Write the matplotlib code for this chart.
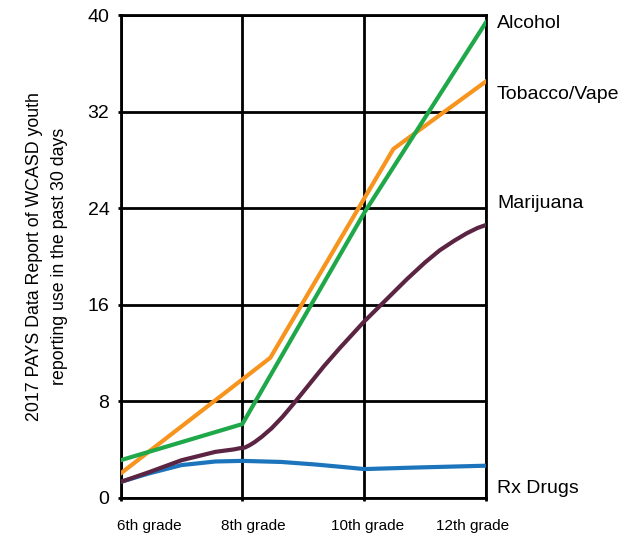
import matplotlib.pyplot as plt

plt.rcParams['font.family'] = ['Liberation Sans', 'DejaVu Sans']

# grade positions: 0 = 6th, 1 = 8th, 2 = 10th, 3 = 12th
grades = ["6th grade", "8th grade", "10th grade", "12th grade"]
grade_label_pos = [0.24, 1.09, 2.03, 2.89]

alcohol_x = [0, 1, 2, 3]
alcohol_y = [3.1, 6.1, 23.6, 39.4]

tobacco_x = [0, 1, 1.23, 2.24, 3]
tobacco_y = [2.0, 9.8, 11.6, 28.9, 34.5]

marijuana_x = [0, 0.23, 0.5, 0.78, 0.93, 0.98, 1.02, 1.06, 1.1, 1.16, 1.24, 1.33,
               1.43, 1.55, 1.67, 1.8, 2.0, 2.13, 2.24, 2.35, 2.5, 2.62, 2.74,
               2.84, 2.93, 3.0]
marijuana_y = [1.3, 2.1, 3.1, 3.8, 4.0, 4.1, 4.15, 4.35, 4.6, 5.05, 5.75, 6.7,
               7.9, 9.4, 10.9, 12.4, 14.6, 15.9, 17.0, 18.1, 19.5, 20.5, 21.3,
               21.9, 22.35, 22.6]

rx_x = [0, 0.23, 0.5, 0.78, 1.0, 1.32, 1.6, 1.87, 2.0, 2.43, 3.0]
rx_y = [1.3, 2.0, 2.7, 3.0, 3.05, 2.96, 2.75, 2.5, 2.37, 2.5, 2.65]

names = ["Alcohol", "Tobacco/Vape", "Marijuana", "Rx Drugs"]
name_y = [39.3, 33.4, 24.4, 0.8]

fig = plt.figure(figsize=(6.28, 5.36), dpi=100)
ax = fig.add_axes([0.1919, 0.0715, 0.582, 0.9005])

lw = 3.0
ax.plot(rx_x, rx_y, color="#1C75BC", lw=lw, solid_joinstyle="round", zorder=3)
ax.plot(marijuana_x, marijuana_y, color="#5B2442", lw=lw, solid_joinstyle="round", zorder=4)
ax.plot(tobacco_x, tobacco_y, color="#F7941D", lw=lw, zorder=5)
ax.plot(alcohol_x, alcohol_y, color="#1FA84A", lw=lw, zorder=6)

ax.set_xlim(0, 3)
ax.set_ylim(0, 40)
ax.set_yticks([0, 8, 16, 24, 32, 40])
ax.set_xticks(grade_label_pos)
ax.set_xticklabels(grades, fontsize=11)
ax.set_xticks([0, 1, 2, 3], minor=True)
ax.tick_params(axis="x", which="major", length=0, pad=15)
ax.tick_params(axis="x", which="minor", length=2, width=2)
ax.tick_params(axis="y", length=2, width=2, pad=6, labelsize=14)

ax.grid(True, axis="y", which="major", color="black", lw=2)
ax.grid(True, axis="x", which="minor", color="black", lw=2)
ax.set_axisbelow(True)
for s in ax.spines.values():
    s.set_linewidth(2)
    s.set_color("black")

ax.set_ylabel("2017 PAYS Data Report of WCASD youth\nreporting use in the past 30 days",
              fontsize=12.8, linespacing=1.6, labelpad=14)

for n, yv in zip(names, name_y):
    ax.annotate(n, xy=(3, yv), xytext=(8, 0), textcoords="offset points",
                va="center", ha="left", fontsize=14, annotation_clip=False)

fig.savefig("out.png")
